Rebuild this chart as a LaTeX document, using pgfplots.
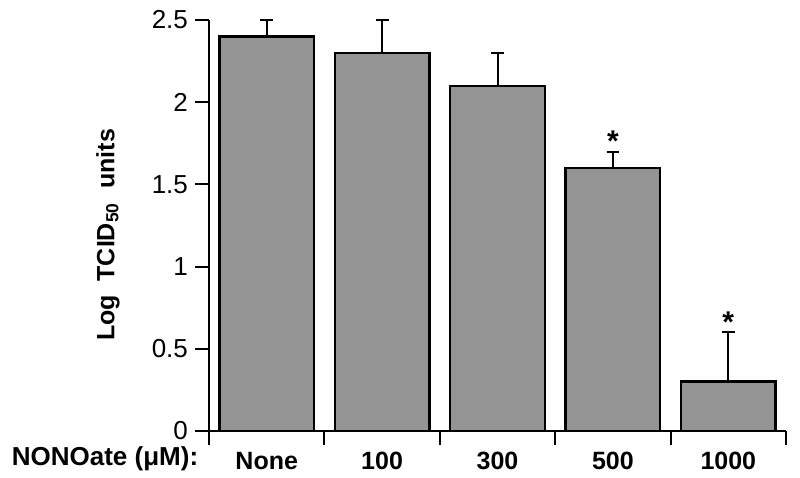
\documentclass[border=0pt]{standalone}
\usepackage{fontspec}
\setmainfont{Liberation Sans}
\usepackage{pgfplots}
\pgfplotsset{compat=1.18}
\definecolor{barfill}{gray}{0.58}

\begin{document}
\begin{tikzpicture}
\begin{axis}[
    scale only axis,
    width=288.5pt, height=205.5pt,
    xmin=0, xmax=5,
    ymin=0, ymax=2.5,
    axis x line*=bottom,
    axis y line*=left,
    axis line style={line width=1pt},
    tick align=outside,
    major tick length=7pt,
    tick style={line width=1pt, black},
    xtick={0,1,2,3,4,5},
    x tick label as interval,
    xticklabels={None,100,300,500,1000},
    x tick label style={font=\fontsize{12.5}{14}\selectfont\bfseries},
    ytick={0,0.5,1,1.5,2,2.5},
    yticklabel={\mbox{\fontsize{13}{14}\selectfont\pgfmathprintnumber[assume math mode=true]{\tick}}},
    clip=false,
]
\addplot[
    ybar, bar width=0.82,
    fill=barfill, draw=black, line width=1.2pt,
    error bars/.cd,
        y dir=plus, y explicit,
        error mark=|,
        error bar style={line width=1pt, black},
        error mark options={line width=1pt, black, mark size=3.2pt},
] coordinates {
    (0.5,2.4) +- (0,0.1)
    (1.5,2.3) +- (0,0.2)
    (2.5,2.1) +- (0,0.2)
    (3.5,1.6) +- (0,0.1)
    (4.5,0.3) +- (0,0.3)
};
% significance marks
\node[anchor=base, inner sep=0pt, font=\fontsize{15}{16}\selectfont\bfseries]
    at (axis cs:3.5,1.7) {*};
\node[anchor=base, inner sep=0pt, font=\fontsize{15}{16}\selectfont\bfseries]
    at (axis cs:4.5,0.6) {*};
% axis titles
\node[rotate=90, font=\fontsize{12.5}{14}\selectfont\bfseries]
    at (axis description cs:-0.175,0.477) {Log\ \ TCID\textsubscript{50}\ \ units};
\node[anchor=base east, inner sep=0pt, font=\fontsize{13}{14}\selectfont\bfseries]
    at ([yshift=-17.5pt]axis description cs:-0.018,0) {NONOate (μM):};
\end{axis}
\pgfresetboundingbox
\path[use as bounding box]
    ([shift={(-104.5pt,-23.5pt)}]current axis.south west)
    rectangle ([shift={(7pt,10pt)}]current axis.north east);
\end{tikzpicture}
\end{document}
